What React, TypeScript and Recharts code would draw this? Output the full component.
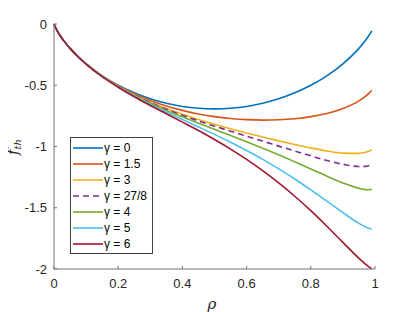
import { LineChart, Line, XAxis, YAxis } from 'recharts';

// rho samples and f_th for each gamma
const rho = [0, 0.01, 0.02, 0.035, 0.05, 0.075, 0.1, 0.15, 0.2, 0.25, 0.3, 0.35, 0.4, 0.45, 0.5, 0.55, 0.6, 0.65, 0.7, 0.75, 0.8, 0.85, 0.9, 0.95, 0.97, 0.98, 0.99];

const g0 = [0, -0.056, -0.098, -0.152, -0.199, -0.266, -0.325, -0.423, -0.5, -0.562, -0.611, -0.647, -0.673, -0.688, -0.693, -0.688, -0.673, -0.647, -0.611, -0.562, -0.5, -0.423, -0.325, -0.199, -0.135, -0.098, -0.056];
const g15 = [0, -0.056, -0.098, -0.152, -0.199, -0.267, -0.326, -0.424, -0.504, -0.57, -0.624, -0.669, -0.705, -0.734, -0.756, -0.771, -0.781, -0.785, -0.782, -0.773, -0.756, -0.73, -0.69, -0.627, -0.591, -0.569, -0.541];
const g3 = [0, -0.056, -0.098, -0.152, -0.199, -0.267, -0.326, -0.426, -0.508, -0.578, -0.638, -0.69, -0.737, -0.779, -0.818, -0.855, -0.889, -0.922, -0.954, -0.984, -1.012, -1.037, -1.054, -1.056, -1.047, -1.039, -1.026];
const g278 = [0, -0.056, -0.098, -0.152, -0.199, -0.267, -0.326, -0.427, -0.509, -0.58, -0.641, -0.696, -0.745, -0.791, -0.834, -0.875, -0.916, -0.956, -0.997, -1.037, -1.076, -1.114, -1.145, -1.163, -1.162, -1.157, -1.148];
const g4 = [0, -0.056, -0.098, -0.152, -0.199, -0.267, -0.326, -0.427, -0.511, -0.583, -0.647, -0.705, -0.758, -0.81, -0.86, -0.91, -0.961, -1.014, -1.068, -1.125, -1.183, -1.242, -1.297, -1.342, -1.352, -1.353, -1.35];
const g5 = [0, -0.056, -0.098, -0.152, -0.199, -0.267, -0.327, -0.428, -0.514, -0.588, -0.656, -0.719, -0.78, -0.84, -0.901, -0.965, -1.033, -1.105, -1.183, -1.265, -1.354, -1.446, -1.54, -1.628, -1.656, -1.667, -1.673];
const g6 = [0, -0.056, -0.098, -0.152, -0.199, -0.267, -0.327, -0.43, -0.516, -0.594, -0.665, -0.733, -0.801, -0.87, -0.943, -1.021, -1.105, -1.197, -1.297, -1.406, -1.524, -1.651, -1.783, -1.913, -1.96, -1.98, -1.997];

const seriesKeys = ['g0', 'g15', 'g3', 'g278', 'g4', 'g5', 'g6'];
const seriesNames = ['γ = 0', 'γ = 1.5', 'γ = 3', 'γ = 27/8', 'γ = 4', 'γ = 5', 'γ = 6'];
const seriesColors = ['#0072BD', '#D95319', '#EDB120', '#7E2F8E', '#77AC30', '#4DBEEE', '#A2142F'];
const seriesDashed = [false, false, false, true, false, false, false];

const xTicks = [0, 0.2, 0.4, 0.6, 0.8, 1];
const yTicks = [-2, -1.5, -1, -0.5, 0];

const values = [g0, g15, g3, g278, g4, g5, g6];
const data = rho.map((r, i) => {
    const row: any = { rho: r };
    seriesKeys.forEach((k, j) => { row[k] = values[j][i]; });
    return row;
});

const FONT = '"Liberation Sans", Arial, Helvetica, sans-serif';
const SERIF = '"DejaVu Serif", "Liberation Serif", serif';
const AXIS = '#737373';
const TEXT = '#262626';

const XTick = ({ x, y, payload }: any) => (
    <g>
        <line x1={x} x2={x} y1={y - 14} y2={y - 17} stroke={AXIS} />
        <text x={x} y={y} dy="0.36em" textAnchor="middle" fontSize={13} fill={TEXT} fontFamily={FONT}>
            {String(payload.value)}
        </text>
    </g>
);

const YTick = ({ x, y, payload }: any) => (
    <g>
        <line x1={x + 7} x2={x + 10} y1={y} y2={y} stroke={AXIS} />
        <text x={x} y={y} dy="0.36em" textAnchor="end" fontSize={13} fill={TEXT} fontFamily={FONT}>
            {String(payload.value)}
        </text>
    </g>
);

export default function App() {
    return (
        <div style={{ position: 'relative', width: 400, height: 304 }}>
            <LineChart width={400} height={304} data={data} margin={{ top: 16, right: 33, bottom: 0, left: 0 }}>
                <XAxis
                    dataKey="rho"
                    type="number"
                    domain={[0, 1]}
                    ticks={xTicks}
                    height={43}
                    tickSize={0}
                    tickMargin={14}
                    tickLine={false}
                    stroke={AXIS}
                    tick={<XTick />}
                    interval={0}
                />
                <YAxis
                    type="number"
                    domain={[-2, 0]}
                    ticks={yTicks}
                    width={46}
                    tickSize={0}
                    tickMargin={7}
                    tickLine={false}
                    stroke={AXIS}
                    tick={<YTick />}
                    interval={0}
                />
                {seriesKeys.map((k, i) => (
                    <Line
                        key={k}
                        dataKey={k}
                        type="monotone"
                        stroke={seriesColors[i]}
                        strokeWidth={1.6}
                        strokeDasharray={seriesDashed[i] ? '6 4' : undefined}
                        dot={false}
                        isAnimationActive={false}
                    />
                ))}
            </LineChart>
            {/* axis labels, drawn past the left edge into the body margin */}
            <svg
                width={400}
                height={304}
                style={{ position: 'absolute', left: 0, top: 0, pointerEvents: 'none', overflow: 'visible' }}
            >
                <text
                    x={5}
                    y={139}
                    transform="rotate(-90 5 139)"
                    textAnchor="middle"
                    dominantBaseline="central"
                    fontFamily={SERIF}
                    fontStyle="italic"
                    fill={TEXT}
                >
                    <tspan fontSize={15}>f</tspan>
                    <tspan fontSize={10} dy={4}>th</tspan>
                </text>
                <text
                    x={204}
                    y={296}
                    textAnchor="middle"
                    dominantBaseline="central"
                    fontFamily={SERIF}
                    fontStyle="italic"
                    fontSize={15}
                    fill={TEXT}
                >
                    ρ
                </text>
            </svg>
            {/* legend */}
            <div
                style={{
                    position: 'absolute',
                    left: 62,
                    top: 129,
                    width: 81,
                    padding: '2px 0 1px 0',
                    border: '1px solid #404040',
                    background: '#fff',
                    fontFamily: FONT,
                    fontSize: 12,
                    color: '#000',
                }}
            >
                {seriesNames.map((n, i) => (
                    <div key={n} style={{ display: 'flex', alignItems: 'center', height: 16 }}>
                        <svg width={33} height={16} style={{ flex: 'none' }}>
                            <line
                                x1={2}
                                x2={32}
                                y1={8}
                                y2={8}
                                stroke={seriesColors[i]}
                                strokeWidth={1.6}
                                strokeDasharray={seriesDashed[i] ? '6 4' : undefined}
                            />
                        </svg>
                        <span style={{ whiteSpace: 'nowrap' }}>{n}</span>
                    </div>
                ))}
            </div>
        </div>
    );
}
